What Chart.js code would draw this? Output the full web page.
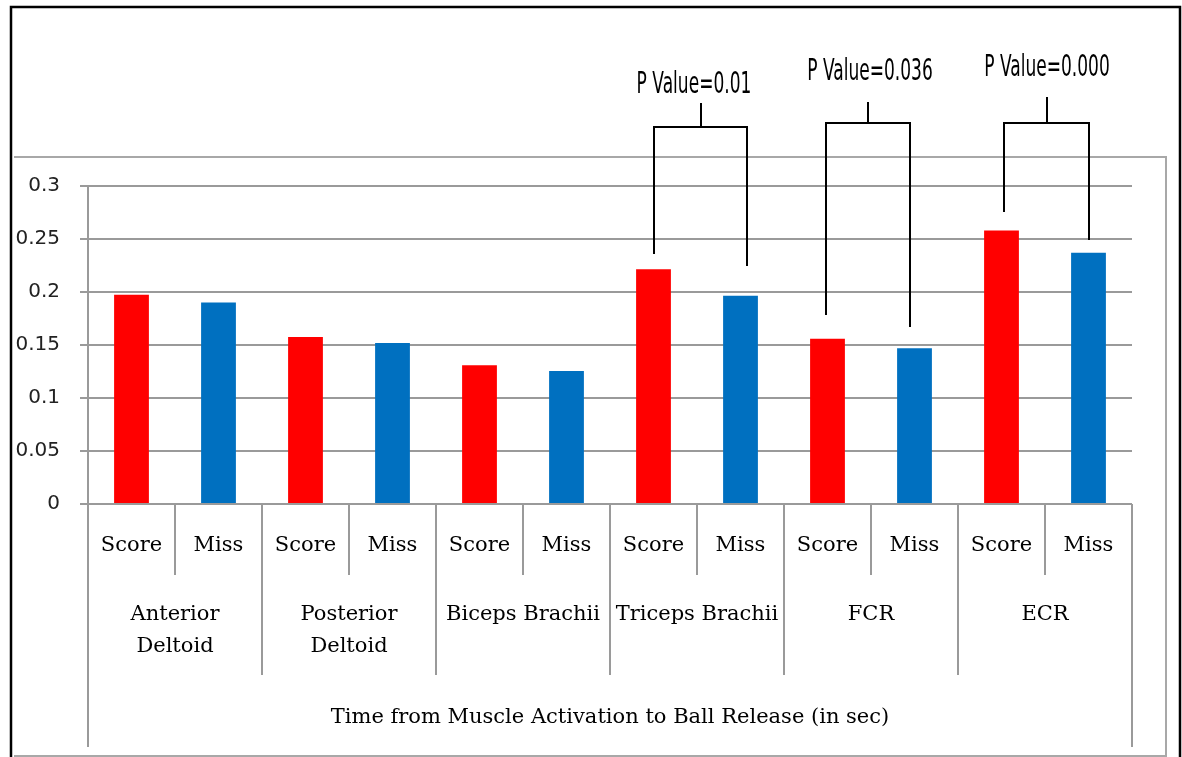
<!DOCTYPE html>
<html>
<head>
<meta charset="utf-8">
<title>Time from Muscle Activation to Ball Release</title>
<script src="https://cdn.jsdelivr.net/npm/chart.js@4/dist/chart.umd.min.js"></script>
<style>
  html, body { margin: 0; padding: 0; background: #fff; }
  canvas { display: block; }
</style>
</head>
<body>
<canvas id="chart" width="1182" height="757"></canvas>
<script>
// Muscles (groups) and shot outcome inside each group
const muscleGroups = ['Anterior Deltoid', 'Posterior Deltoid', 'Biceps Brachii', 'Triceps Brachii', 'FCR', 'ECR'];
const groupLabelLines = [['Anterior', 'Deltoid'], ['Posterior', 'Deltoid'], ['Biceps Brachii'], ['Triceps Brachii'], ['FCR'], ['ECR']];
const outcomes = ['Score', 'Miss'];

// Time from muscle activation to ball release (sec)
const scoreTimes = [0.1975, 0.1575, 0.131, 0.2215, 0.156, 0.258];
const missTimes  = [0.190, 0.152, 0.1255, 0.1965, 0.147, 0.237];

const yTickValues = [0, 0.05, 0.1, 0.15, 0.2, 0.25, 0.3];
const axisTitle = 'Time from Muscle Activation to Ball Release (in sec)';

// Significance brackets (vertical levels in axis units)
const pValueLabels = ['P Value=0.01', 'P Value=0.036', 'P Value=0.000'];
const bracketGroups = [3, 4, 5];
const bracketLayout = [
  { legEnds: [0.2358, 0.2245], top: 0.3557, stemTop: 0.3783, textBase: 0.3877, dx: [0, 6], textDx: -7 },
  { legEnds: [0.1783, 0.1670], top: 0.3594, stemTop: 0.3792, textBase: 0.4000, dx: [-2, -5], textDx: 2 },
  { legEnds: [0.2755, 0.2491], top: 0.3594, stemTop: 0.3840, textBase: 0.4038, dx: [2, 0], textDx: 0 }
];

const SCORE_COLOR = '#FF0000';
const MISS_COLOR = '#0070C0';
const GRID_COLOR = '#9a9a9a';
const SERIF = '"DejaVu Serif", "Liberation Serif", serif';

// One bar per outcome, laid out group by group
const barLabels = [];
const barValues = [];
const barColors = [];
muscleGroups.forEach((g, i) => {
  barLabels.push(outcomes[0], outcomes[1]);
  barValues.push(scoreTimes[i], missTimes[i]);
  barColors.push(SCORE_COLOR, MISS_COLOR);
});

const framePlugin = {
  id: 'frame',
  beforeDraw(chart) {
    const ctx = chart.ctx;
    ctx.save();
    ctx.fillStyle = '#fff';
    ctx.fillRect(0, 0, chart.width, chart.height);
    // grey plot-area frame
    ctx.strokeStyle = '#a8a8a8';
    ctx.lineWidth = 2;
    ctx.beginPath();
    ctx.moveTo(14, 157); ctx.lineTo(1166, 157); ctx.lineTo(1166, 756); ctx.lineTo(14, 756);
    ctx.stroke();
    // black outer border
    ctx.strokeStyle = '#000';
    ctx.lineWidth = 2.5;
    ctx.beginPath();
    ctx.moveTo(11, 757); ctx.lineTo(11, 7); ctx.lineTo(1180, 7); ctx.lineTo(1180, 757);
    ctx.stroke();
    ctx.restore();
  }
};

const categoryAxisPlugin = {
  id: 'categoryAxis',
  afterDraw(chart) {
    const ctx = chart.ctx;
    const area = chart.chartArea;
    const step = (area.right - area.left) / barLabels.length;
    const base = area.bottom;
    ctx.save();
    ctx.strokeStyle = GRID_COLOR;
    ctx.lineWidth = 2;
    ctx.beginPath();
    // separators between Score and Miss
    for (let i = 1; i < barLabels.length; i += 2) {
      const px = Math.round(area.left + step * i);
      ctx.moveTo(px, base); ctx.lineTo(px, base + 71);
    }
    // separators between muscle groups
    for (let g = 1; g < muscleGroups.length; g++) {
      const px = Math.round(area.left + step * 2 * g);
      ctx.moveTo(px, base); ctx.lineTo(px, base + 171);
    }
    // outer edges
    ctx.moveTo(area.left, base); ctx.lineTo(area.left, base + 243);
    ctx.moveTo(area.right, base); ctx.lineTo(area.right, base + 243);
    ctx.stroke();

    // group names
    ctx.fillStyle = '#000';
    ctx.font = '21px ' + SERIF;
    ctx.textAlign = 'center';
    ctx.textBaseline = 'middle';
    groupLabelLines.forEach((lines, g) => {
      const cx = area.left + step * (2 * g + 1);
      lines.forEach((line, k) => ctx.fillText(line, cx, base + 111 + k * 32));
    });
    // axis title
    ctx.fillText(axisTitle, (area.left + area.right) / 2, base + 214);
    ctx.restore();
  }
};

const bracketPlugin = {
  id: 'brackets',
  afterDatasetsDraw(chart) {
    const ctx = chart.ctx;
    const y = chart.scales.y;
    const bars = chart.getDatasetMeta(0).data;
    ctx.save();
    ctx.strokeStyle = '#000';
    ctx.lineWidth = 2;
    bracketGroups.forEach((g, k) => {
      const L = bracketLayout[k];
      const xl = Math.round(bars[2 * g].x + L.dx[0]);
      const xr = Math.round(bars[2 * g + 1].x + L.dx[1]);
      const yt = Math.round(y.getPixelForValue(L.top));
      const xm = Math.round((xl + xr) / 2);
      ctx.beginPath();
      ctx.moveTo(xl, y.getPixelForValue(L.legEnds[0]));
      ctx.lineTo(xl, yt);
      ctx.lineTo(xr, yt);
      ctx.lineTo(xr, y.getPixelForValue(L.legEnds[1]));
      ctx.moveTo(xm, yt);
      ctx.lineTo(xm, y.getPixelForValue(L.stemTop));
      ctx.stroke();

      // condensed label above the bracket
      ctx.save();
      ctx.translate(xm + L.textDx, y.getPixelForValue(L.textBase));
      ctx.scale(0.55, 1);
      ctx.fillStyle = '#000';
      ctx.font = '31px "DejaVu Sans", sans-serif';
      ctx.textAlign = 'center';
      ctx.textBaseline = 'alphabetic';
      ctx.fillText(pValueLabels[k], 0, 0);
      ctx.restore();
    });
    ctx.restore();
  }
};

new Chart(document.getElementById('chart'), {
  type: 'bar',
  data: {
    labels: barLabels,
    datasets: [{
      data: barValues,
      backgroundColor: barColors,
      borderWidth: 0,
      barPercentage: 0.4,
      categoryPercentage: 1
    }]
  },
  options: {
    responsive: false,
    animation: false,
    devicePixelRatio: 1,
    layout: { padding: { top: 186, right: 50, left: 0, bottom: 0 } },
    plugins: { legend: { display: false }, tooltip: { enabled: false } },
    scales: {
      x: {
        afterFit(scale) { scale.height = 253; },
        grid: { display: false },
        border: { display: false },
        ticks: {
          color: '#000',
          font: { family: SERIF, size: 21 },
          padding: 21,
          maxRotation: 0,
          autoSkip: false
        }
      },
      y: {
        min: 0,
        max: 0.3,
        afterFit(scale) { scale.width = 88; },
        afterBuildTicks(scale) { scale.ticks = yTickValues.map(v => ({ value: v })); },
        grid: { color: GRID_COLOR, lineWidth: 2, tickLength: 8 },
        border: { color: GRID_COLOR, width: 2 },
        ticks: {
          color: '#222',
          font: { family: '"DejaVu Sans", sans-serif', size: 20 },
          padding: 20,
          callback: v => String(Number(v.toFixed(2)))
        }
      }
    }
  },
  plugins: [framePlugin, categoryAxisPlugin, bracketPlugin]
});
</script>
</body>
</html>
